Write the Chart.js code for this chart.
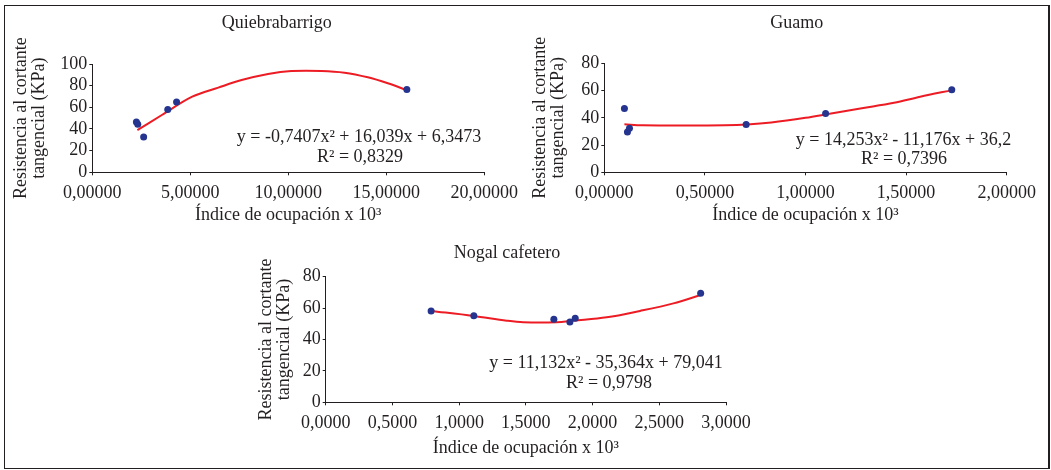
<!DOCTYPE html>
<html><head><meta charset="utf-8">
<script src="https://cdn.jsdelivr.net/npm/chart.js@4/dist/chart.umd.min.js"></script>
<style>
html,body{margin:0;padding:0;background:#fff;}
#wrap{position:relative;width:1051px;height:470px;overflow:hidden;background:#fff;}
#frame{position:absolute;left:4px;top:5px;width:1043px;height:462px;border:1px solid #231f20;border-right-width:2px;}
canvas{position:absolute;}
</style></head><body>
<div id="wrap"><div id="frame"></div>
<canvas id="c1" width="525" height="232" style="left:0px;top:0px;width:525px;height:232px"></canvas>
<canvas id="c2" width="526" height="232" style="left:525px;top:0px;width:526px;height:232px"></canvas>
<canvas id="c3" width="540" height="236" style="left:240px;top:232px;width:540px;height:236px"></canvas>
</div>
<script>
// ---------- data ----------
const yAxisTitle = ['Resistencia al cortante', 'tangencial (KPa)'];
const xAxisTitle = 'Índice de ocupación x 10³';

// Quiebrabarrigo
const q_title = 'Quiebrabarrigo';
const q_pointsX = [2.25, 2.32, 2.62, 3.85, 4.30, 16.05];
const q_pointsY = [46.5, 44.3, 32.7, 58.0, 65.0, 76.4];
const q_trendX = [2.3, 3.55, 5.1, 6.43, 7.62, 8.97, 10.16, 11.69, 12.87, 14.06, 15.08, 16.05];
const q_trendY = [38.9, 52.9, 69.8, 78.2, 85.2, 90.8, 93.5, 93.6, 92.0, 87.7, 82.2, 75.9];
const q_xTicks = [0, 5, 10, 15, 20];
const q_xTickLabels = ['0,00000', '5,00000', '10,00000', '15,00000', '20,00000'];
const q_yTicks = [0, 20, 40, 60, 80, 100];
const q_yTickLabels = ['0', '20', '40', '60', '80', '100'];
const q_eq = ['y = -0,7407x² + 16,039x + 6,3473', 'R² = 0,8329'];

// Guamo
const g_title = 'Guamo';
const g_pointsX = [0.10, 0.115, 0.125, 0.705, 1.10, 1.727];
const g_pointsY = [46.8, 29.6, 32.4, 35.1, 43.1, 60.6];
const g_trendX = [0.10, 0.19, 0.40, 0.60, 0.71, 0.83, 1.00, 1.12, 1.28, 1.44, 1.57, 1.73];
const g_trendY = [35.2, 34.5, 34.3, 34.5, 35.1, 36.6, 40.0, 43.0, 47.0, 51.0, 55.5, 60.3];
const g_xTicks = [0, 0.5, 1, 1.5, 2];
const g_xTickLabels = ['0,00000', '0,50000', '1,00000', '1,50000', '2,00000'];
const g_yTicks = [0, 20, 40, 60, 80];
const g_yTickLabels = ['0', '20', '40', '60', '80'];
const g_eq = ['y = 14,253x² - 11,176x + 36,2', 'R² = 0,7396'];

// Nogal cafetero
const n_title = 'Nogal cafetero';
const n_pointsX = [0.79, 1.11, 1.71, 1.83, 1.87, 2.81];
const n_pointsY = [58.2, 55.2, 52.9, 51.1, 53.5, 69.4];
const n_trendX = [0.79, 1.107, 1.357, 1.48, 1.73, 1.856, 2.106, 2.356, 2.606, 2.81];
const n_trendY = [58.2, 55.0, 52.0, 51.0, 51.0, 52.0, 54.1, 58.2, 63.0, 68.3];
const n_xTicks = [0, 0.5, 1, 1.5, 2, 2.5, 3];
const n_xTickLabels = ['0,0000', '0,5000', '1,0000', '1,5000', '2,0000', '2,5000', '3,0000'];
const n_yTicks = [0, 20, 40, 60, 80];
const n_yTickLabels = ['0', '20', '40', '60', '80'];
const n_eq = ['y = 11,132x² - 35,364x + 79,041', 'R² = 0,9798'];

// ---------- style ----------
const TEXT = '#231f20';
const FONT = 'Liberation Serif, Times New Roman, serif';
const POINT = '#24348f';
const RED = '#ed1c24';

function pairs(xs, ys) { return xs.map((v, i) => ({x: v, y: ys[i]})); }

function textPlugin(items) {
  return {
    id: 'texts',
    afterDraw(chart) {
      const ctx = chart.ctx;
      ctx.save();
      ctx.fillStyle = TEXT;
      ctx.font = '18px ' + FONT;
      ctx.textAlign = 'center';
      ctx.textBaseline = 'alphabetic';
      items.forEach(it => ctx.fillText(it.text, it.x, it.y));
      ctx.restore();
    }
  };
}

function makeChart(id, cfg) {
  const tickFont = {family: FONT, size: 18, lineHeight: 1.2};
  const titleFont = {family: FONT, size: 18, lineHeight: 1};
  const gridCfg = {display: true, drawOnChartArea: false, drawTicks: true, tickLength: 3, color: TEXT, lineWidth: 1};
  return new Chart(document.getElementById(id), {
    type: 'scatter',
    data: {
      datasets: [
        {data: pairs(cfg.trendX, cfg.trendY), showLine: true, borderColor: RED, borderWidth: 2,
         pointRadius: 0, tension: 0.35, fill: false, order: 2},
        {data: pairs(cfg.px, cfg.py), showLine: false, pointRadius: 3.5, pointBackgroundColor: POINT,
         pointBorderColor: POINT, pointBorderWidth: 0, order: 1}
      ]
    },
    options: {
      responsive: false, animation: false, devicePixelRatio: 1,
      layout: {padding: cfg.padding},
      plugins: {legend: {display: false}, tooltip: {enabled: false}, title: {display: false}},
      scales: {
        x: {
          type: 'linear', min: cfg.xTicks[0], max: cfg.xTicks[cfg.xTicks.length - 1],
          afterBuildTicks: s => { s.ticks = cfg.xTicks.map(v => ({value: v})); },
          afterFit: s => { s.height = cfg.xHeight; },
          ticks: {callback: (v, i) => cfg.xLabels[i], font: tickFont, color: TEXT, padding: 7, maxRotation: 0, autoSkip: false},
          grid: gridCfg, border: {display: true, color: TEXT, width: 1},
          title: {display: true, text: xAxisTitle, font: titleFont, color: TEXT, padding: 0}
        },
        y: {
          type: 'linear', min: cfg.yTicks[0], max: cfg.yTicks[cfg.yTicks.length - 1],
          afterBuildTicks: s => { s.ticks = cfg.yTicks.map(v => ({value: v})); },
          afterFit: s => { s.width = cfg.yWidth; },
          ticks: {callback: (v, i) => cfg.yLabels[i], font: tickFont, color: TEXT, padding: 2, autoSkip: false},
          grid: gridCfg, border: {display: true, color: TEXT, width: 1},
          title: {display: true, text: yAxisTitle, font: titleFont, color: TEXT, padding: 0}
        }
      }
    },
    plugins: [textPlugin(cfg.texts)]
  });
}

makeChart('c1', {
  px: q_pointsX, py: q_pointsY, trendX: q_trendX, trendY: q_trendY,
  xTicks: q_xTicks, xLabels: q_xTickLabels, yTicks: q_yTicks, yLabels: q_yTickLabels,
  padding: {left: 12, top: 64, right: 40, bottom: 7.4}, yWidth: 80.3, xHeight: 52.3,
  texts: [{text: q_title, x: 276.7, y: 28.3}, {text: q_eq[0], x: 359, y: 142}, {text: q_eq[1], x: 360, y: 162}]
});

makeChart('c2', {
  px: g_pointsX, py: g_pointsY, trendX: g_trendX, trendY: g_trendY,
  xTicks: g_xTicks, xLabels: g_xTickLabels, yTicks: g_yTicks, yLabels: g_yTickLabels,
  padding: {left: 6, top: 63.3, right: 44.3, bottom: 7.4}, yWidth: 73.3, xHeight: 52.3,
  texts: [{text: g_title, x: 271.7, y: 28.3}, {text: g_eq[0], x: 378.5, y: 145}, {text: g_eq[1], x: 379, y: 164}]
});

makeChart('c3', {
  px: n_pointsX, py: n_pointsY, trendX: n_trendX, trendY: n_trendY,
  xTicks: n_xTicks, xLabels: n_xTickLabels, yTicks: n_yTicks, yLabels: n_yTickLabels,
  padding: {left: 17.7, top: 44.7, right: 54, bottom: 10.8}, yWidth: 68, xHeight: 54.9,
  texts: [{text: n_title, x: 267, y: 26}, {text: n_eq[0], x: 366, y: 136}, {text: n_eq[1], x: 369, y: 156}]
});
</script>
</body></html>
